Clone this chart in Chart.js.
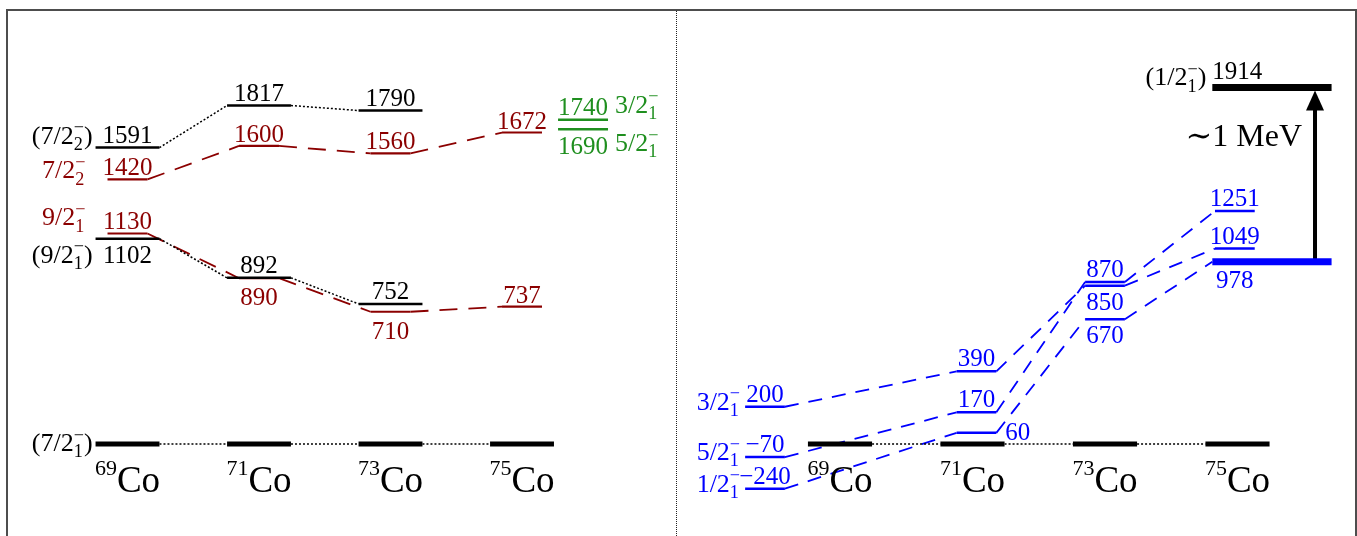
<!DOCTYPE html>
<html>
<head>
<meta charset="utf-8">
<script src="https://cdn.jsdelivr.net/npm/chart.js@4.4.1/dist/chart.umd.min.js"></script>
<style>
  html, body { margin: 0; padding: 0; background: #fff; overflow: hidden; }
  #frame { position: absolute; left: 6px; top: 9px; width: 1347px; height: 560px; border: 2px solid #4d4d4d; }
  #divider { position: absolute; left: 676px; top: 11px; height: 525px; border-left: 1px dotted #222; }
  canvas { position: absolute; top: 0; }
  #left { left: 0; }
  #right { left: 677px; }
</style>
</head>
<body>
<div id="frame"></div>
<div id="divider"></div>
<canvas id="left" width="676" height="536"></canvas>
<canvas id="right" width="680" height="536"></canvas>
<script>
// --- Data (keV) ---
const isotopes = ['69', '71', '73', '75'];
// left: experiment (black)
const exp72 = [1591, 1817, 1790];
const exp92 = [1102, 892, 752];
// left: shell model (dark red)
const sm72 = [1420, 1600, 1560, 1672];
const sm92 = [1130, 890, 710, 737];
// 75Co extra states (green)
const green75 = [1740, 1690];
const green75Spins = [3, 5];
// right: blue levels per isotope
const blue32 = [200, 390, 850, 1049];
const blue52 = [-70, 170, 870, 1251];
const blue12 = [-240, 60, 670, 978];
const top12 = 1914;

// --- Layout / style ---
const FONT = '"Liberation Serif", "DejaVu Serif", serif';
const Y_MIN = -493.8, Y_MAX = 2383.3;
const DARKRED = '#8b0000', GREEN = '#1f8f1f', BLUE = '#0000ff';

function seg(x1, y1, x2, y2, color, width, dash) {
    return {
        data: [{ x: x1, y: y1 }, { x: x2, y: y2 }],
        borderColor: color, borderWidth: width, borderDash: dash || [],
        showLine: true, pointRadius: 0, fill: false, borderCapStyle: 'butt'
    };
}
const level = (c, e, hw, color, w) => seg(c - hw, e, c + hw, e, color, w);

const num = (v, f = 25) => [{ t: String(v).replace('-', '\u2212'), f: f }];
function spin(j, k, paren, f = 26) {
    const r = [];
    r.push({ t: (paren ? '(' : '') + j + '/2', f: f });
    r.push({ t: '\u2212', f: f * 0.7, dy: -f * 0.4, stack: true });
    r.push({ t: String(k), f: f * 0.7, dy: f * 0.24 });
    if (paren) r.push({ t: ')', f: f });
    return r;
}
const iso = a => [{ t: a, f: 22, dy: -17 }, { t: 'Co', f: 37 }];

function runsWidth(ctx, runs) {
    let w = 0, hold = 0;
    runs.forEach(r => {
        ctx.font = r.f + 'px ' + FONT;
        const rw = ctx.measureText(r.t).width;
        if (r.stack) hold = Math.max(hold, rw);
        else { w += Math.max(hold, rw); hold = 0; }
    });
    return w + hold;
}

function textPlugin(items) {
    return {
        id: 'levelText',
        afterDatasetsDraw(chart) {
            const ctx = chart.ctx, sx = chart.scales.x, sy = chart.scales.y;
            ctx.save();
            items.forEach(it => {
                const x = sx.getPixelForValue(it.x) + (it.dx || 0);
                const y = sy.getPixelForValue(it.y) + (it.dy || 0);
                ctx.fillStyle = it.color || '#000';
                if (it.arrow) {
                    ctx.beginPath();
                    ctx.moveTo(x, y);
                    ctx.lineTo(x - 9, y + 20);
                    ctx.lineTo(x + 9, y + 20);
                    ctx.closePath();
                    ctx.fill();
                    return;
                }
                const w = runsWidth(ctx, it.runs);
                let cx = it.align === 'right' ? x - w : it.align === 'left' ? x : x - w / 2;
                let hold = 0;
                ctx.textAlign = 'left';
                ctx.textBaseline = 'alphabetic';
                it.runs.forEach(r => {
                    ctx.font = r.f + 'px ' + FONT;
                    const rw = ctx.measureText(r.t).width;
                    ctx.fillText(r.t, cx, y + (r.dy || 0));
                    if (r.stack) hold = Math.max(hold, rw);
                    else { cx += Math.max(hold, rw); hold = 0; }
                });
            });
            ctx.restore();
        }
    };
}

function makeChart(id, xMin, xMax, datasets, labels) {
    return new Chart(document.getElementById(id), {
        type: 'scatter',
        data: { datasets: datasets },
        options: {
            responsive: false, animation: false, events: [],
            layout: { padding: 0 },
            plugins: { legend: { display: false }, tooltip: { enabled: false } },
            scales: {
                x: { type: 'linear', min: xMin, max: xMax, display: false },
                y: { min: Y_MIN, max: Y_MAX, display: false }
            }
        },
        plugins: [textPlugin(labels)]
    });
}

// --- Left panel ---
const HW = 0.243, HR = 0.152, GOFF = 0.464, HG = 0.19;
const RED_DASH = [18, 11];
const dsL = [], lbL = [];
isotopes.forEach((a, i) => {
    dsL.push(level(i, 0, HW, '#000', 5));
    if (i < 3) dsL.push(seg(i + HW, 0, i + 1 - HW, 0, '#000', 1.5, [2, 2]));
    lbL.push({ x: i, y: 0, dy: 48, runs: iso(a) });
});
lbL.push({ x: -HW, y: 0, dx: -3, dy: 7, align: 'right', runs: spin(7, 1, true) });

[exp72, exp92].forEach(arr => {
    arr.forEach((e, i) => {
        dsL.push(level(i, e, HW, '#000', 2.5));
        if (i < arr.length - 1) dsL.push(seg(i + HW, e, i + 1 - HW, arr[i + 1], '#000', 1.5, [2, 2]));
    });
});
exp72.forEach((e, i) => lbL.push({ x: i, y: e, dy: -5, runs: num(e) }));
lbL.push({ x: -HW, y: exp72[0], dx: -3, dy: -4, align: 'right', runs: spin(7, 2, true) });
exp92.forEach((e, i) => lbL.push({ x: i, y: e, dy: i === 0 ? 24 : -5, runs: num(e) }));
lbL.push({ x: -HW, y: exp92[0], dx: -3, dy: 24, align: 'right', runs: spin(9, 1, true) });

[sm72, sm92].forEach(arr => {
    arr.forEach((e, i) => {
        dsL.push(level(i, e, HR, DARKRED, 2.2));
        if (i < arr.length - 1) dsL.push(seg(i + HR, e, i + 1 - HR, arr[i + 1], DARKRED, 1.8, RED_DASH));
    });
});
sm72.forEach((e, i) => lbL.push({ x: i, y: e, dy: -4, color: DARKRED, runs: num(e) }));
lbL.push({ x: -HR, y: sm72[0], dx: -22, dy: -1, align: 'right', color: DARKRED, runs: spin(7, 2, false) });
sm92.forEach((e, i) => lbL.push({ x: i, y: e, dy: (i === 1 || i === 2) ? 27 : -4, color: DARKRED, runs: num(e) }));
lbL.push({ x: -HR, y: sm92[0], dx: -22, dy: -8, align: 'right', color: DARKRED, runs: spin(9, 1, false) });

green75.forEach((e, k) => {
    dsL.push(level(3 + GOFF, e, HG, GREEN, 2.5));
    lbL.push({ x: 3 + GOFF, y: e, dy: k === 0 ? -5 : 25, color: GREEN, runs: num(e) });
    lbL.push({ x: 3 + GOFF + HG, y: e, dx: 7, dy: k === 0 ? -7 : 22, align: 'left', color: GREEN, runs: spin(green75Spins[k], 1, false) });
});

makeChart('left', -0.9696, 4.171, dsL, lbL);

// --- Right panel ---
const HB = 0.15, BOFF = [-0.566, 0.03, 0, -0.02], TOFF = 0.26, HT = 0.45, AX = 3.585;
const BLUE_DASH = [14, 10];
const dsR = [], lbR = [];
isotopes.forEach((a, i) => {
    dsR.push(level(i, 0, 0.242, '#000', 5));
    if (i < 3) dsR.push(seg(i + 0.242, 0, i + 1 - 0.242, 0, '#000', 1.5, [2, 2]));
    lbR.push({ x: i, y: 0, dy: 48, runs: iso(a) });
});

[blue32, blue52, blue12].forEach(arr => {
    arr.forEach((e, i) => {
        const thick = (arr === blue12 && i === 3);
        if (thick) dsR.push(level(3 + TOFF, e, HT, BLUE, 7));
        else dsR.push(level(i + BOFF[i], e, HB, BLUE, 2.5));
        if (i < 3) {
            const nextStart = (arr === blue12 && i === 2) ? 3 + TOFF - HT : i + 1 + BOFF[i + 1] - HB;
            dsR.push(seg(i + BOFF[i] + HB, e, nextStart, arr[i + 1], BLUE, 1.8, BLUE_DASH));
        }
    });
});

dsR.push(level(3 + TOFF, top12, HT, '#000', 7));
dsR.push(seg(AX, blue12[3], AX, top12 - 100, '#000', 4));
lbR.push({ x: AX, y: top12, dy: 3, arrow: true });
lbR.push({ x: 3 + TOFF - HT, y: top12, dy: -8, align: 'left', runs: num(top12) });
lbR.push({ x: 3 + TOFF - HT, y: top12, dx: -6, dy: -2, align: 'right', runs: spin(1, 1, true) });
lbR.push({ x: AX, y: top12, dx: -13, dy: 59, align: 'right', runs: [{ t: '\u223C1 MeV', f: 32 }] });

// 69Co shell-model states with spins
[[blue32, 3], [blue52, 5], [blue12, 1]].forEach(([arr, j]) => {
    lbR.push({ x: BOFF[0], y: arr[0], dy: -5, color: BLUE, runs: num(arr[0]) });
    lbR.push({ x: BOFF[0] - HB, y: arr[0], dx: -5, dy: 3, align: 'right', color: BLUE, runs: spin(j, 1, false) });
});
lbR.push({ x: 1 + BOFF[1], y: blue32[1], dy: -5, color: BLUE, runs: num(blue32[1]) });
lbR.push({ x: 1 + BOFF[1], y: blue52[1], dy: -5, color: BLUE, runs: num(blue52[1]) });
lbR.push({ x: 1 + BOFF[1] + HB, y: blue12[1], dx: 9, dy: 7, align: 'left', color: BLUE, runs: num(blue12[1]) });
lbR.push({ x: 2 + BOFF[2], y: blue52[2], dy: -5, color: BLUE, runs: num(blue52[2]) });
lbR.push({ x: 2 + BOFF[2], y: blue32[2], dy: 24, color: BLUE, runs: num(blue32[2]) });
lbR.push({ x: 2 + BOFF[2], y: blue12[2], dy: 24, color: BLUE, runs: num(blue12[2]) });
lbR.push({ x: 3 + BOFF[3], y: blue52[3], dy: -5, color: BLUE, runs: num(blue52[3]) });
lbR.push({ x: 3 + BOFF[3], y: blue32[3], dy: -5, color: BLUE, runs: num(blue32[3]) });
lbR.push({ x: 3 + BOFF[3], y: blue12[3], dy: 26, color: BLUE, runs: num(blue12[3]) });

makeChart('right', -1.2302, 3.9019, dsR, lbR);
</script>
</body>
</html>
